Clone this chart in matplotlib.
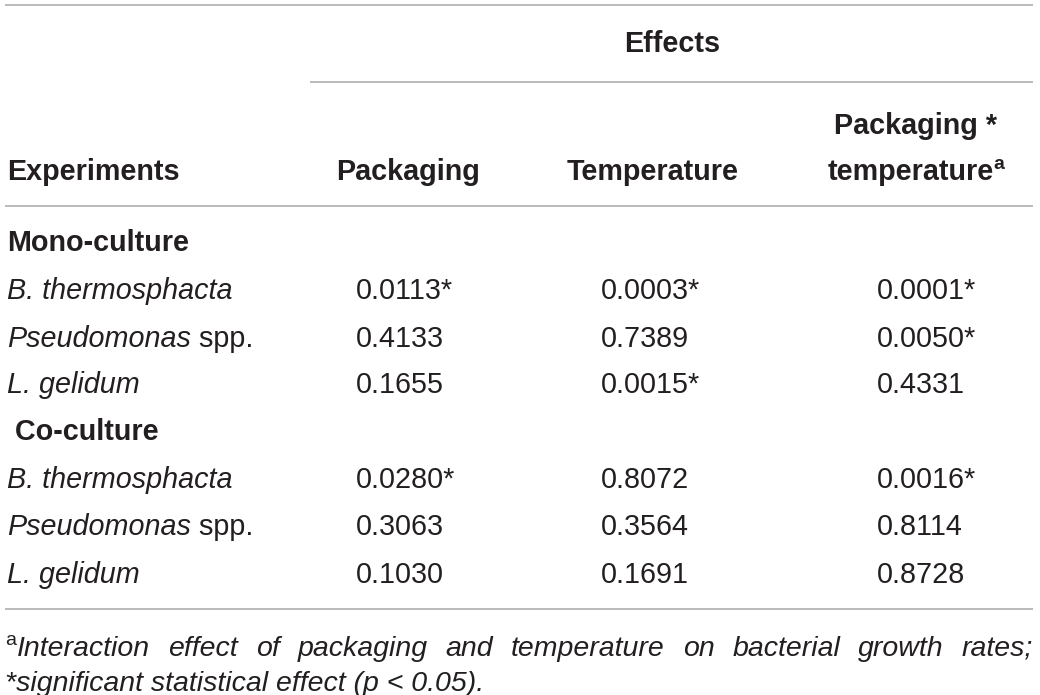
import matplotlib.pyplot as plt

plt.rcParams['font.family'] = ['Liberation Sans', 'DejaVu Sans']

# table content
effects_title = "Effects"
row_header = "Experiments"
col_headers = ["Packaging", "Temperature", "Packaging *"]
col_header_last2 = "temperature"
groups = ["Mono-culture", " Co-culture"]
species_italic = ["B. thermosphacta", "Pseudomonas", "L. gelidum"]
species_plain = ["", " spp.", ""]

packaging = [0.0113, 0.4133, 0.1655, 0.0280, 0.3063, 0.1030]
temperature = [0.0003, 0.7389, 0.0015, 0.8072, 0.3564, 0.1691]
interaction = [0.0001, 0.0050, 0.4331, 0.0016, 0.8114, 0.8728]

footnote1 = "Interaction effect of packaging and temperature on bacterial growth rates;"
footnote2 = "*significant statistical effect (p < 0.05)."

TXT = '#231f20'
LINE = '#a8a8a8'
FS = 20.7

fig = plt.figure(figsize=(10.4, 6.95), dpi=100)
ax = fig.add_axes([0, 0, 1, 1])
ax.set_xlim(0, 1040)
ax.set_ylim(695, 0)
ax.axis('off')
r = fig.canvas.get_renderer()


def width(t):
    return t.get_window_extent(r).width


def txt(x, y, s, **kw):
    kw.setdefault('fontsize', FS)
    kw.setdefault('color', TXT)
    kw.setdefault('va', 'baseline')
    return ax.text(x, y, s, **kw)


# rules
for y in [5, 206, 609]:
    ax.plot([5, 1033], [y, y], color=LINE, lw=1.1, solid_capstyle='butt')
ax.plot([310, 1033], [82, 82], color=LINE, lw=1.1, solid_capstyle='butt')

# header
txt(672, 52, effects_title, ha='center', weight='bold')
txt(7, 180, row_header, weight='bold')
col_left = [356, 601, 877]
col_center = [408, 653, 916]
txt(col_center[0], 180, col_headers[0], ha='center', weight='bold')
txt(col_center[1], 180, col_headers[1], ha='center', weight='bold')
txt(col_center[2], 134, col_headers[2], ha='center', weight='bold')
t1 = txt(0, 180, col_header_last2, weight='bold')
t2 = txt(0, 169, "a", weight='bold', fontsize=14)
w1, w2 = width(t1), width(t2)
x0 = col_center[2] - (w1 + w2) / 2
t1.set_x(x0)
t2.set_x(x0 + w1)

# body
group_y = [251, 440]
row_y = [[299, 347, 393], [488, 535, 583]]
for g in range(2):
    txt(7, group_y[g], groups[g], weight='bold')
    for i in range(3):
        k = g * 3 + i
        y = row_y[g][i]
        ti = txt(7, y, species_italic[i], style='italic')
        if species_plain[i]:
            txt(7 + width(ti), y, species_plain[i])
        for c, vals in enumerate([packaging, temperature, interaction]):
            v = vals[k]
            s = f"{v:.4f}" + ("*" if v < 0.05 else "")
            txt(col_left[c], y, s)

# footnote, first line justified
FFS = 20.5
sup = txt(5, 645, "a", fontsize=14)
words = footnote1.split()
wt = [txt(0, 656, w, style='italic', fontsize=FFS) for w in words]
start = 5 + width(sup) + 1
total = sum(width(t) for t in wt)
gap = (1033 - start - total) / (len(wt) - 1)
x = start
for t in wt:
    t.set_x(x)
    x += width(t) + gap
txt(5, 691, footnote2, style='italic', fontsize=FFS)

fig.savefig('out.png', dpi=100)
